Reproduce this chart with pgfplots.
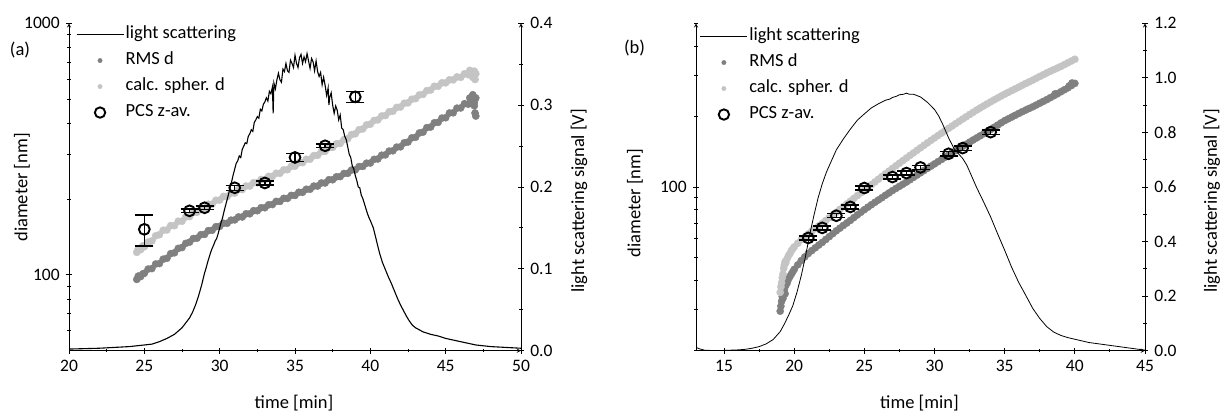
\documentclass[border=0pt]{standalone}
\usepackage{pgfplots}
\pgfplotsset{compat=1.18}
\usepackage{fontspec}
\setmainfont{Carlito}
\definecolor{darkdot}{HTML}{808080}
\definecolor{lightdot}{HTML}{C4C4C4}
\newcommand{\bigfont}{\fontsize{18.5}{22}\selectfont}
\newcommand{\tickfont}{\fontsize{17.5}{21}\selectfont}
\pgfplotsset{
  every tick label/.append style={font=\tickfont},
  base/.style={
    scale only axis, height=327.4pt, anchor=south west,
    tick align=outside, major tick length=6pt, minor tick length=3.5pt,
    every tick/.style={black, line width=0.9pt},
    axis line style={-, black, line width=0.9pt},
    /pgf/number format/assume math mode=true,
    xticklabel style={font=\tickfont}, yticklabel style={font=\tickfont},
  },
  legline/.style={legend image code/.code={\draw[##1] (0pt,0pt) -- (47pt,0pt);}},
  legmark/.style={legend image code/.code={\draw[mark repeat=2,mark phase=2,##1] plot coordinates {(0pt,0pt) (23.5pt,0pt) (47pt,0pt)};}},
  dotsD/.style={only marks, mark=*, mark size=3.6pt, color=darkdot},
  dotsL/.style={only marks, mark=*, mark size=3.6pt, color=lightdot},
  pcs/.style={only marks, mark=o, mark size=5.4pt, line width=1.9pt, black,
    error bars/.cd, y dir=both, y explicit,
    error mark options={rotate=90, black, mark size=9pt, line width=1.3pt},
    error bar style={line width=1.3pt, black}},
  legst/.style={legend style={draw=none, fill=none, inner sep=0pt, outer sep=0pt,
    font=\bigfont, row sep=5.5pt, column sep=0pt,
    nodes={inner sep=1.5pt, text height=13pt, text depth=4.5pt}},
    legend cell align=left},
}
\begin{document}
\bigfont
\begin{tikzpicture}
\useasboundingbox (0,0) rectangle (1222pt,412pt);
% ===================== panel (a) =====================
\begin{axis}[base, width=452pt, at={(69pt,61.3pt)},
  xmin=20, xmax=50, ymode=log, ymin=50, ymax=1000,
  axis x line=bottom, axis y line=left,
  xtick={20,25,30,35,40,45,50}, minor x tick num=1,
  ytick={100,1000}, yticklabels={100,1000},
  minor ytick={60,70,80,90,200,300,400,500,600,700,800,900}]
\addplot[dotsD] table {
24.5 96
24.6 99
24.75 98.5
24.9 101
25.0 101.5
25.25 105.5
25.5 106
25.75 110.5
26.0 111
26.25 115.5
26.5 116.5
26.75 121.5
27.0 122.5
27.25 127.5
27.5 128.5
27.75 133.5
28.0 135
28.25 139.5
28.5 140
28.75 144.5
29.0 145
29.25 150
29.5 150.5
29.75 155.5
30.0 156
30.25 160.5
30.5 160.5
30.75 165
31.0 165.5
31.25 170
31.5 170
31.75 175
32.0 175
32.25 180
32.5 180
32.75 185
33.0 185
33.25 190
33.5 190.5
33.75 196
34.0 196
34.25 201.5
34.5 201.5
34.75 207
35.0 207
35.25 213
35.5 213
35.75 219
36.0 219
36.25 225.5
36.5 225.5
36.75 232
37.0 232
37.25 239
37.5 239
37.75 245.5
38.0 246
38.25 253
38.5 253.5
38.75 261
39.0 261.5
39.25 269.5
39.5 270
39.75 278
40.0 278.5
40.25 288
40.5 289
40.75 299
41.0 300
41.25 310.5
41.5 311.5
41.75 322
42.0 323
42.25 335
42.5 337.5
42.75 350.5
43.0 352.5
43.25 366.5
43.5 369.5
43.75 385
44.0 387
44.25 402.5
44.5 404
44.75 420
45.0 421.5
45.25 440
45.5 441
45.75 460
46.0 461
46.25 479
46.5 477
46.6 505
46.75 496
46.8 520
46.9 470
47.0 505
46.95 440
47.0 428
46.9 485
};
\addplot[dotsL] table {
24.5 123
24.6 127
24.75 126
24.9 130.5
25.0 129.5
25.25 135
25.5 136.5
25.75 143
26.0 144.5
26.25 150.5
26.5 151
26.75 157
27.0 157
27.25 163.5
27.5 163.5
27.75 170
28.0 170.5
28.25 177
28.5 177.5
28.75 184
29.0 184
29.25 191
29.5 191
29.75 198
30.0 198.5
30.25 205
30.5 205
30.75 211.5
31.0 211.5
31.25 218.5
31.5 218.5
31.75 225.5
32.0 225.5
32.25 232.5
32.5 232.5
32.75 239.5
33.0 239.5
33.25 246.5
33.5 246.5
33.75 253.5
34.0 253.5
34.25 261.5
34.5 262
34.75 270
35.0 270.5
35.25 279
35.5 279.5
35.75 288
36.0 288.5
36.25 298
36.5 299
36.75 309
37.0 310
37.25 320.5
37.5 321.5
37.75 332
38.0 333
38.25 345
38.5 348
38.75 361
39.0 364
39.25 377.5
39.5 380.5
39.75 394.5
40.0 397.5
40.25 411
40.5 413.5
40.75 428
41.0 430
41.25 445
41.5 447.5
41.75 463
42.0 465
42.25 481
42.5 483
42.75 499
43.0 502
43.25 519
43.5 522
43.75 540
44.0 543
44.25 562
44.5 562
44.75 580
45.0 580
45.25 596
45.5 596
45.75 612
46.0 610
46.25 630
46.5 625
46.6 650
46.75 640
46.8 610
46.9 645
47.0 630
46.95 598
};
\end{axis}
\begin{axis}[base, width=452pt, at={(69pt,61.3pt)},
  xmin=20, xmax=50, ymin=0, ymax=0.4,
  axis x line=none, axis y line=right,
  ytick={0,0.1,0.2,0.3,0.4}, yticklabels={0.0,0.1,0.2,0.3,0.4},
  minor ytick={0.05,0.15,0.25,0.35}]
\addplot[black, line width=1.1pt] table {
20.0 0.002
21.0 0.0025
22.0 0.003
23.0 0.004
24.0 0.005
24.5 0.006
25.0 0.007
25.5 0.008
26.0 0.011
26.5 0.015
27.0 0.020
27.5 0.028
28.0 0.040
28.2 0.047
28.4 0.056
28.6 0.067
28.8 0.080
29.0 0.095
29.1 0.101
29.2 0.108
29.3 0.114
29.4 0.120
29.5 0.125
29.6 0.129
29.7 0.134
29.8 0.137
29.9 0.143
30.0 0.150
30.1 0.157
30.2 0.163
30.3 0.171
30.4 0.178
30.5 0.185
30.6 0.192
30.7 0.200
30.8 0.207
30.9 0.215
31.0 0.222
31.1 0.229
31.2 0.232
31.3 0.238
31.4 0.236
31.5 0.246
31.6 0.250
31.7 0.254
31.8 0.253
31.9 0.262
32.0 0.265
32.1 0.270
32.2 0.268
32.3 0.279
32.4 0.282
32.5 0.286
32.6 0.284
32.7 0.295
32.8 0.293
32.9 0.301
33.0 0.304
33.1 0.309
33.2 0.305
33.3 0.317
33.4 0.314
33.5 0.322
33.55 0.290
33.6 0.327
33.7 0.320
33.8 0.331
33.9 0.339
34.0 0.331
34.1 0.328
34.2 0.344
34.3 0.341
34.4 0.351
34.5 0.342
34.6 0.340
34.7 0.355
34.8 0.351
34.9 0.346
35.0 0.361
35.1 0.351
35.2 0.346
35.3 0.358
35.4 0.362
35.5 0.351
35.6 0.359
35.7 0.353
35.8 0.363
35.9 0.354
36.0 0.345
36.1 0.357
36.2 0.353
36.3 0.342
36.4 0.354
36.5 0.341
36.6 0.335
36.7 0.340
36.8 0.325
36.9 0.334
37.0 0.324
37.1 0.312
37.2 0.321
37.25 0.300
37.3 0.309
37.4 0.315
37.5 0.300
37.6 0.290
37.7 0.299
37.8 0.294
37.9 0.282
38.0 0.288
38.1 0.272
38.2 0.270
38.3 0.262
38.4 0.258
38.5 0.249
38.6 0.240
38.7 0.236
38.8 0.226
38.9 0.222
39.0 0.214
39.1 0.208
39.2 0.200
39.3 0.199
39.4 0.190
39.5 0.186
39.6 0.180
39.7 0.174
39.8 0.168
39.9 0.163
40.0 0.159
40.2 0.150
40.4 0.135
40.6 0.120
40.8 0.108
41.0 0.099
41.2 0.090
41.4 0.082
41.6 0.073
41.8 0.064
42.0 0.056
42.2 0.049
42.4 0.042
42.6 0.036
42.8 0.031
43.0 0.028
43.5 0.023
44.0 0.020
44.5 0.018
45.0 0.015
45.5 0.013
46.0 0.011
46.5 0.009
47.0 0.007
47.5 0.006
48.0 0.005
49.0 0.004
50.0 0.003
};
\end{axis}
\begin{axis}[base, width=452pt, at={(69pt,61.3pt)},
  xmin=20, xmax=50, ymode=log, ymin=50, ymax=1000, hide axis, legst,
  legend style={at={(axis description cs:0,1)}, anchor=north west, xshift=7pt, yshift=-1pt}]
\addlegendimage{legline, black, line width=1.1pt}
\addlegendentry{light scattering}
\addlegendimage{legmark, only marks, mark=*, mark size=2.2pt, color=darkdot}
\addlegendentry{RMS d}
\addlegendimage{legmark, only marks, mark=*, mark size=2.2pt, color=lightdot}
\addlegendentry{calc. spher. d}
\addlegendimage{legmark, only marks, mark=o, mark size=5.2pt, line width=1.9pt, black}
\addlegendentry{PCS z-av.}
\addplot[pcs] table[x=t, y=d, y error=e] {
t d e
25 151.8 21.5
28 179.8 3
29 184.9 3
31 222 5
33 232 4
35 293 10
37 326 5
39 510 27
};
\end{axis}
% ===================== panel (b) =====================
\begin{axis}[base, width=449pt, at={(696pt,61.3pt)},
  xmin=13, xmax=45, ymode=log, ymin=20, ymax=500,
  axis x line=bottom, axis y line=left,
  xtick={15,20,25,30,35,40,45}, minor x tick num=1,
  ytick={100}, yticklabels={100},
  minor ytick={20,30,40,50,60,70,80,90,200,300,400,500}]
\addplot[dotsD] table {
19.0 29.5
19.05 31
19.1 32.5
19.15 34
19.2 33.5
19.25 35.5
19.3 36.5
19.35 35
19.4 38
19.5 39
19.6 40.5
19.7 41.5
19.8 42.5
19.9 43.5
20.0 44.5
20.25 46.5
20.5 48.5
20.75 50.3
21.0 52
21.25 53.5
21.5 55
21.75 56.5
22.0 58
22.25 59.7
22.5 61.4
22.75 63.2
23.0 65
23.25 66.7
23.5 68.5
23.75 70.2
24.0 72
24.25 74
24.5 76
24.75 78
25.0 80
25.25 82
25.5 84
25.75 86
26.0 88
26.25 90
26.5 92.2
26.75 94.3
27.0 96.5
27.25 98.6
27.5 100.7
27.75 102.8
28.0 105
28.25 107.4
28.5 109.9
28.75 112.4
29.0 115
29.25 117.6
29.5 120.2
29.75 122.8
30.0 125.5
30.25 128.3
30.5 131.1
30.75 134
31.0 137
31.25 139.9
31.5 142.9
31.75 145.9
32.0 149
32.25 152.2
32.5 155.4
32.75 158.7
33.0 162
33.25 165.4
33.5 168.8
33.75 172.4
34.0 176
34.25 179.9
34.5 183.8
34.75 187.9
35.0 192
35.25 195.4
35.5 198.9
35.75 202.4
36.0 206
36.25 209.6
36.5 213.1
36.75 216.6
37.0 220
37.25 223.9
37.5 227.9
37.75 232
38.0 236
38.25 240.6
38.5 245.2
38.6 250
38.75 249.9
39.0 255
39.25 260
39.5 265
39.6 270
39.75 271
39.8 278
40.0 277
};
\addplot[dotsL] table {
19.0 35.5
19.05 37.5
19.1 39
19.15 41
19.2 42.5
19.25 45
19.3 46.5
19.35 48
19.4 47.5
19.5 49.5
19.6 51
19.7 52
19.8 53.5
19.9 54.5
20.0 55.5
20.25 57.5
20.5 59.5
20.75 61.3
21.0 63
21.25 64.7
21.5 66.5
21.75 68.2
22.0 70
22.25 71.9
22.5 73.9
22.75 75.9
23.0 78
23.25 80.2
23.5 82.4
23.75 84.7
24.0 87
24.25 89.4
24.5 91.9
24.75 94.4
25.0 97
25.25 99.7
25.5 102.3
25.75 105.1
26.0 108
26.25 110.9
26.5 113.9
26.75 116.9
27.0 120
27.25 123.2
27.5 126.4
27.75 129.7
28.0 133
28.25 136.4
28.5 139.8
28.75 143.4
29.0 147
29.25 150.7
29.5 154.4
29.75 158.2
30.0 162
30.25 165.9
30.5 169.8
30.75 173.9
31.0 178
31.25 182.1
31.5 186.3
31.75 190.6
32.0 195
32.25 199.4
32.5 203.9
32.75 208.4
33.0 213
33.25 217.4
33.5 221.9
33.75 226.4
34.0 231
34.25 235.5
34.5 240
34.75 244.6
35.0 249
35.25 253.5
35.5 258
35.75 262.5
36.0 267
36.25 271.8
36.5 276.6
36.75 281.3
37.0 286
37.25 291.2
37.5 296.4
37.75 301.6
38.0 307
38.25 312
38.5 317
38.75 322
39.0 327
39.25 333
39.5 339
39.75 345
40.0 351
};
\end{axis}
\begin{axis}[base, width=449pt, at={(696pt,61.3pt)},
  xmin=13, xmax=45, ymin=0, ymax=1.2,
  axis x line=none, axis y line=right,
  ytick={0,0.2,0.4,0.6,0.8,1.0,1.2}, yticklabels={0.0,0.2,0.4,0.6,0.8,1.0,1.2},
  minor ytick={0.1,0.3,0.5,0.7,0.9,1.1}]
\addplot[black, line width=0.8pt] table {
13.0 0.012
13.3 0.006
13.6 0.002
14.0 0.001
15.0 0.001
16.0 0.003
16.5 0.005
17.0 0.009
17.5 0.015
18.0 0.025
18.5 0.041
19.0 0.070
19.3 0.098
19.6 0.130
19.9 0.165
20.2 0.215
20.5 0.275
20.8 0.345
21.1 0.425
21.4 0.495
21.7 0.560
22.0 0.612
22.3 0.655
22.6 0.690
23.0 0.736
23.5 0.776
24.0 0.812
24.5 0.845
25.0 0.868
25.5 0.890
26.0 0.905
26.5 0.918
26.8 0.922
27.0 0.928
27.3 0.933
27.5 0.938
27.8 0.940
28.0 0.944
28.2 0.940
28.5 0.940
28.8 0.934
29.0 0.930
29.5 0.910
30.0 0.884
30.3 0.860
30.6 0.828
31.0 0.780
31.4 0.740
31.7 0.722
32.0 0.705
32.3 0.680
32.6 0.645
33.0 0.598
33.5 0.545
34.0 0.490
34.5 0.428
35.0 0.368
35.5 0.305
36.0 0.250
36.5 0.203
37.0 0.155
37.5 0.118
38.0 0.088
38.5 0.068
39.0 0.056
39.5 0.048
40.0 0.042
41.0 0.030
42.0 0.023
43.0 0.016
44.0 0.009
45.0 0.002
};
\end{axis}
\begin{axis}[base, width=449pt, at={(696pt,61.3pt)},
  xmin=13, xmax=45, ymode=log, ymin=20, ymax=500, hide axis, legst,
  legend style={at={(axis description cs:0,1)}, anchor=north west, xshift=4pt, yshift=-3pt}]
\addlegendimage{legline, black, line width=0.8pt}
\addlegendentry{light scattering}
\addlegendimage{legmark, only marks, mark=*, mark size=2.2pt, color=darkdot}
\addlegendentry{RMS d}
\addlegendimage{legmark, only marks, mark=*, mark size=2.2pt, color=lightdot}
\addlegendentry{calc. spher. d}
\addlegendimage{legmark, only marks, mark=o, mark size=5.2pt, line width=1.9pt, black}
\addlegendentry{PCS z-av.}
\addplot[pcs] table[x=t, y=d, y error=e] {
t d e
21 60.6 1.2
22 66.9 1.3
23 75.4 1.5
24 82.2 1.6
25 99.0 2
27 110.3 2.2
28 114.7 2.3
29 121.2 2.4
31 138.6 2.8
32 146.6 3
34 171.5 3.4
};
\end{axis}
% ===================== labels =====================
\node[anchor=base] at (294pt,4pt) {time [min]};
\node[anchor=base] at (919.5pt,4pt) {time [min]};
\node[rotate=90] at (22pt,224.5pt) {diameter [nm]};
\node[rotate=90] at (579pt,211.3pt) {light scattering signal [V]};
\node[rotate=90] at (635pt,208.7pt) {diameter [nm]};
\node[rotate=90] at (1211.7pt,211.2pt) {light scattering signal [V]};
\node at (20pt,362pt) {(a)};
\node at (634.5pt,364pt) {(b)};
\end{tikzpicture}
\end{document}
